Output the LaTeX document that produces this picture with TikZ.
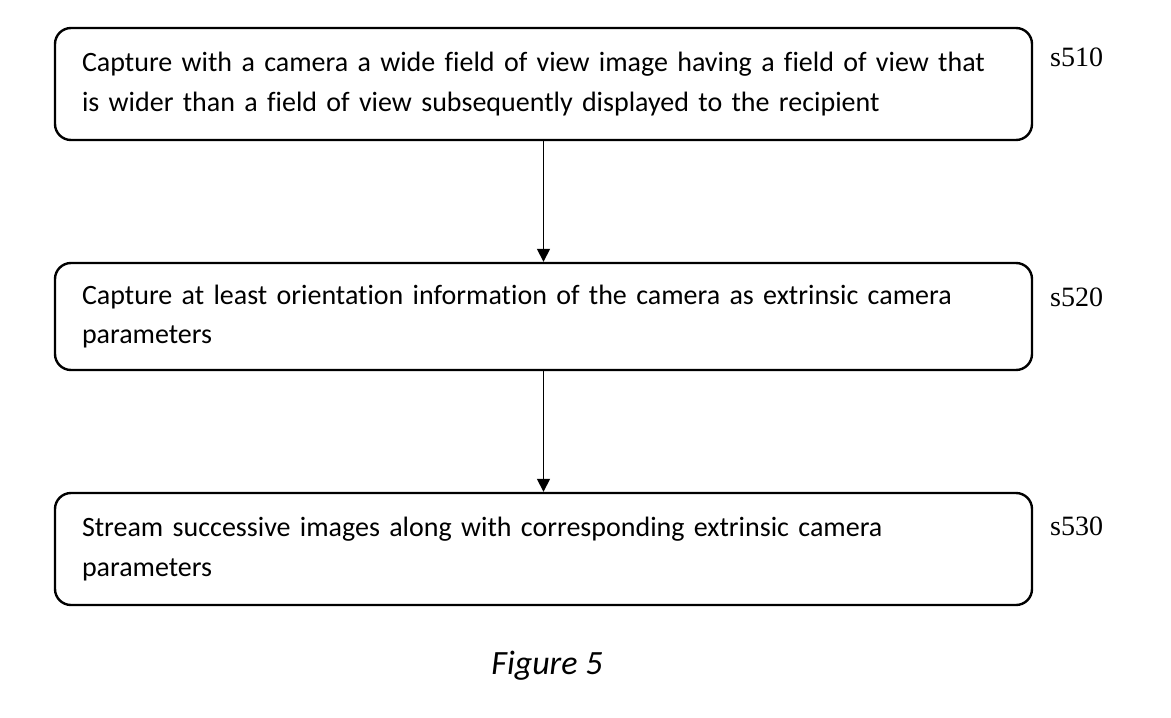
\documentclass[tikz,border=0pt]{standalone}
\usepackage{fontspec}
\setmainfont[Ligatures=NoCommon]{Carlito}
\newfontfamily\labfont{Liberation Serif}
\usetikzlibrary{arrows.meta}
\begin{document}
\begin{tikzpicture}[x=1pt,y=-1pt,
  stepbox/.style={draw=black,line width=2.4pt,rounded corners=16pt,
    minimum width=977pt,text width=923pt,inner xsep=27pt,align=left,
    font=\fontsize{28}{39.5}\selectfont},
  steplabel/.style={anchor=west,inner sep=0pt,font=\labfont\fontsize{28}{30}\selectfont},
  flow/.style={line width=1.6pt,-{Triangle[width=13pt,length=13pt]}}]
\useasboundingbox (0,0) rectangle (1171,718);
\node[stepbox,minimum height=112pt] (b1) at (543.5,84) {Capture with a camera a wide field of view image having a field of view that\\ is wider than a field of view subsequently displayed to the recipient};
\node[stepbox,minimum height=107pt] (b2) at (543.5,316.5) {Capture at least orientation information of the camera as extrinsic camera\\ parameters};
\node[stepbox,minimum height=112pt] (b3) at (543.5,549) {Stream successive images along with corresponding extrinsic camera\\ parameters};
\node[steplabel] (l1) at (1050,57) {s510};
\node[steplabel] (l2) at (1050,297) {s520};
\node[steplabel] (l3) at (1050,526) {s530};
\draw[flow] (b1.south) -- (b2.north);
\draw[flow] (b2.south) -- (b3.north);
\node[font=\itshape\fontsize{34}{40}\selectfont] (cap) at (547,666) {Figure 5};
\end{tikzpicture}
\end{document}
